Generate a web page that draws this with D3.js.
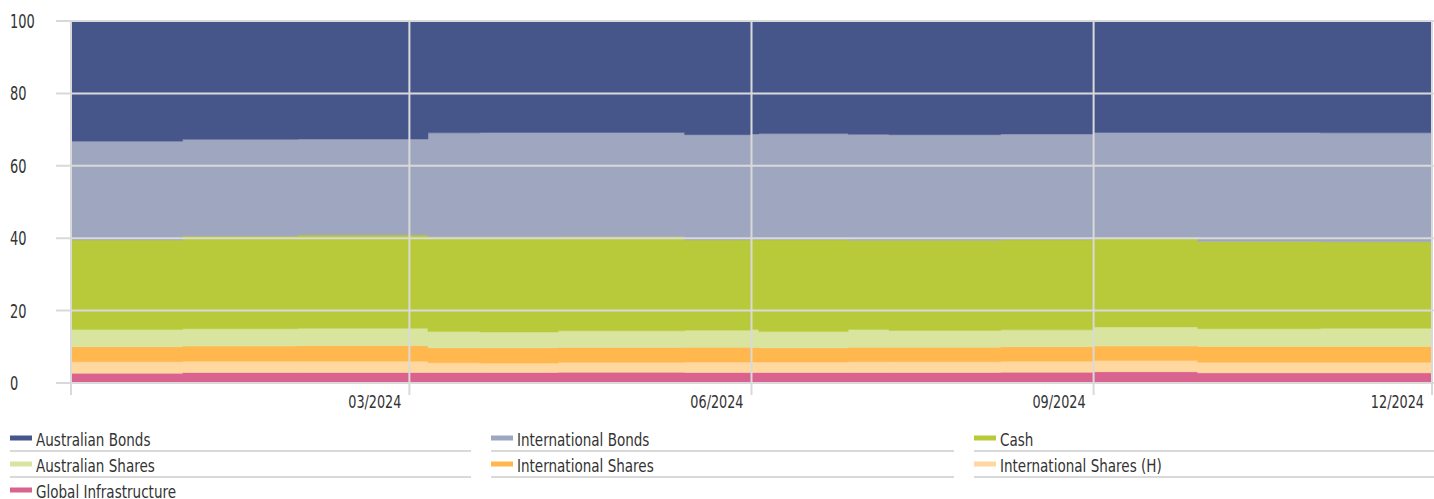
<!DOCTYPE html>
<html><head><meta charset="utf-8">
<script src="https://cdn.jsdelivr.net/npm/d3@7/dist/d3.min.js"></script>
<style>
html,body{margin:0;padding:0;background:#fff;}
svg{display:block;}
text{font-family:"DejaVu Sans Condensed","Liberation Sans Narrow","Roboto",sans-serif;fill:#333;}
</style></head>
<body><svg id="c" width="1434" height="499"></svg>
<script>
// ---- data ----
const dates = ["2023-12-01","2023-12-31","2024-01-31","2024-03-06","2024-03-20","2024-04-10","2024-05-14","2024-06-01","2024-06-03","2024-06-27","2024-07-08","2024-08-07","2024-09-01","2024-09-29","2024-11-01","2024-12-01"];
const globalInfrastructure = [2.7,2.9,2.9,2.9,2.9,3.0,2.9,2.9,2.9,2.9,2.9,3.0,3.1,2.8,2.8,2.8];
const internationalSharesH = [3.2,3.1,3.1,2.7,2.6,2.7,2.9,2.9,2.9,3.0,3.0,3.0,3.1,2.9,2.9,2.9];
const internationalShares  = [4.1,4.2,4.3,4.1,4.2,4.1,4.1,4.0,3.9,4.0,4.0,4.0,4.0,4.4,4.4,4.4];
const australianShares     = [4.8,4.8,4.8,4.5,4.4,4.6,4.7,5.0,4.5,4.9,4.6,4.7,5.3,4.9,5.0,5.0];
const cash                 = [24.7,25.6,25.8,26.2,26.3,26.1,24.9,24.8,25.4,24.6,24.9,24.9,24.4,24.1,23.9,23.9];
const internationalBonds   = [27.3,26.7,26.5,28.7,28.8,28.7,29.1,29.2,29.3,29.3,29.2,29.2,29.3,30.1,30.1,30.1];
const australianBonds      = [33.2,32.7,32.6,30.9,30.8,30.8,31.4,31.2,31.1,31.3,31.4,31.2,30.8,30.8,30.9,30.9];
const yTicks = [0,20,40,60,80,100];
const xTickDates = ["2024-03-01","2024-06-01","2024-09-01","2024-12-01"];
const seriesNames = ["Global Infrastructure","International Shares (H)","International Shares","Australian Shares","Cash","International Bonds","Australian Bonds"];
const seriesColors = ["#d9628f","#ffd8a0","#ffb74e","#d9e49e","#b8ca3a","#9fa7c0","#46568a"];
const legendOrder = ["Australian Bonds","International Bonds","Cash","Australian Shares","International Shares","International Shares (H)","Global Infrastructure"];

// ---- build ----
const seriesValues = [globalInfrastructure,internationalSharesH,internationalShares,australianShares,cash,internationalBonds,australianBonds];
const parse = d3.timeParse("%Y-%m-%d");
const table = dates.map((d,i)=>{
  const row = {date: parse(d)};
  seriesNames.forEach((n,k)=>row[n]=seriesValues[k][i]);
  return row;
});
const color = d3.scaleOrdinal(seriesNames, seriesColors);

const svg = d3.select("#c");
const mLeft=71, mRight=1432, mTop=21, mBottom=383;
const x = d3.scaleTime().domain([parse(dates[0]), parse(dates[dates.length-1])]).range([mLeft,mRight]);
const y = d3.scaleLinear().domain([0,100]).range([mBottom,mTop]);

const stack = d3.stack().keys(seriesNames);
const layers = stack(table);
const area = d3.area().curve(d3.curveStepAfter)
  .x(d=>x(d.data.date)).y0(d=>y(d[0])).y1(d=>y(d[1]));

svg.append("g").selectAll("path").data(layers).join("path")
  .attr("d",area).attr("fill",d=>color(d.key)).attr("stroke",d=>color(d.key)).attr("stroke-width",0.5);

// gridlines
const grid = svg.append("g").attr("stroke","#d9d9d9").attr("stroke-width",2);
grid.selectAll("line.h").data(yTicks).join("line").attr("class","h")
  .attr("x1",56).attr("x2",1434).attr("y1",d=>y(d)).attr("y2",d=>y(d));
const xt = xTickDates.map(parse);
grid.selectAll("line.v").data([parse(dates[0])].concat(xt)).join("line").attr("class","v")
  .attr("x1",d=>x(d)).attr("x2",d=>x(d)).attr("y1",mTop).attr("y2",395);

// condensed text helper
function ctext(g, tx, ty, str, size, sx, anchor){
  return g.append("text").attr("transform",`translate(${tx},${ty}) scale(${sx},1)`)
    .attr("font-size",size).attr("text-anchor",anchor||"start").text(str);
}

// y labels
const yl = svg.append("g");
yTicks.forEach(t=>ctext(yl,10,y(t)+7,t,19,0.76));

// x labels
const fmt = d3.timeFormat("%m/%Y");
const xl = svg.append("g");
xt.forEach(d=>ctext(xl,Math.min(x(d)-8,1430),408,fmt(d),18,0.79,"end"));

// legend
const colX=[10,491,974], colW=[461,463,460];
const lg = svg.append("g");
legendOrder.forEach((n,i)=>{
  const c=i%3, r=Math.floor(i/3);
  const gx=colX[c], gy=438+r*26;
  lg.append("rect").attr("x",gx).attr("y",gy-2.5).attr("width",22).attr("height",5).attr("fill",color(n));
  ctext(lg,gx+26,gy+7.5,n,17.5,0.86);
  lg.append("line").attr("x1",gx).attr("x2",gx+colW[c]).attr("y1",gy+13).attr("y2",gy+13)
    .attr("stroke","#d9d9d9").attr("stroke-width",2);
});
</script></body></html>
